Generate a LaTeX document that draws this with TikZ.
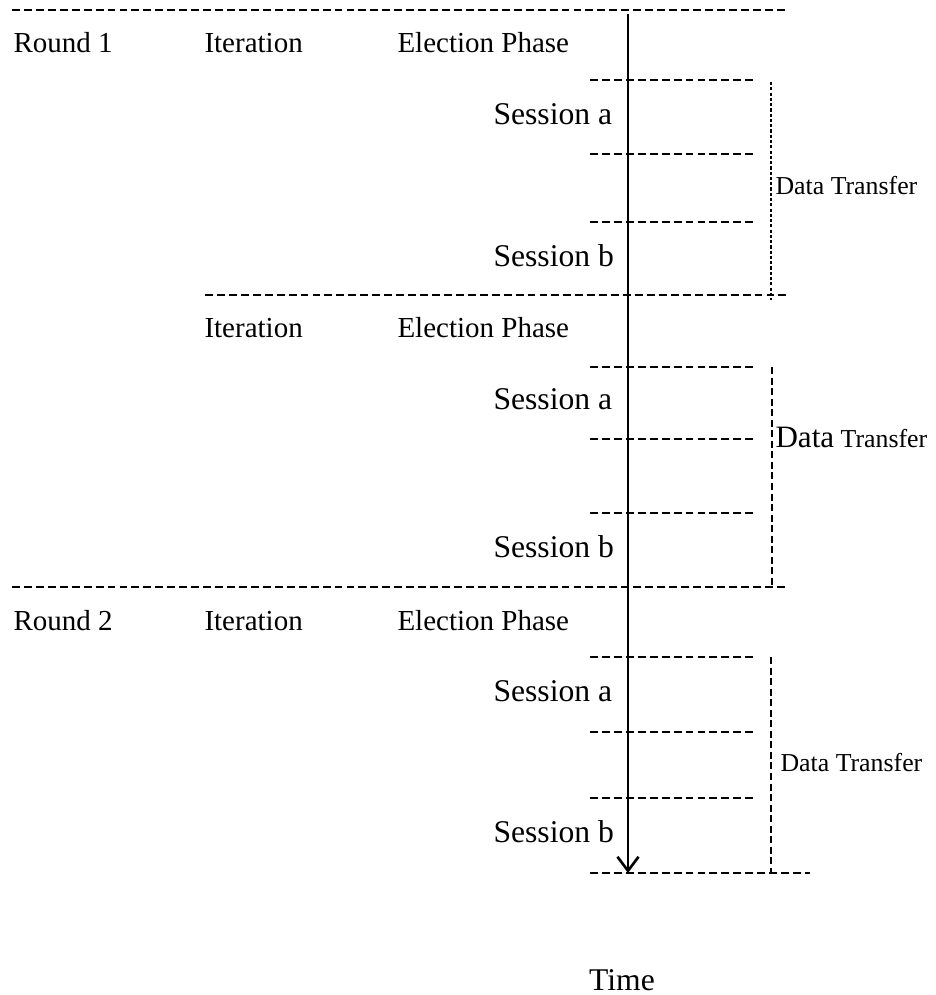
\documentclass[tikz,border=0pt]{standalone}
\usepackage{fontspec}
\setmainfont{Liberation Serif}
\usetikzlibrary{arrows.meta}
\tikzset{
  timeline/.style={x=0.02cm,y=-0.02cm,line width=0.6pt},
  rule/.style={dash pattern=on 4.5pt off 2.3pt},
  span/.style={dash pattern=on 4pt off 2pt},
  head/.style={anchor=west,inner sep=0pt,font=\fontsize{16.5}{18}\selectfont},
  sess/.style={anchor=west,inner sep=0pt,font=\fontsize{18}{20}\selectfont},
  xfer/.style={anchor=west,inner sep=0pt,font=\fontsize{14.7}{16}\selectfont},
}

\begin{document}
\begin{tikzpicture}[timeline]
    \useasboundingbox (0,0) rectangle (936,995);
    % round / iteration rules
    \coordinate (r0w) at (12,10);  \coordinate (r0e) at (785,10);
    \coordinate (r1w) at (205,295); \coordinate (r1e) at (788,295);
    \coordinate (r2w) at (12,587);  \coordinate (r2e) at (788,587);
    \coordinate (r3w) at (590,873); \coordinate (r3e) at (810,873);
    \foreach \i in {0,...,3} \draw[rule] (r\i w) -- (r\i e);
    % session rules
    \foreach \y [count=\i] in {80,154,222,367,439,513,657,732,798} {
      \coordinate (s\i w) at (590,\y); \coordinate (s\i e) at (757,\y);
      \draw[rule] (s\i w) -- (s\i e);
    }
    \node[head] (round1) at (13,43) {Round 1};
    \node[head] (round2) at (13,621) {Round 2};
    \foreach \y/\i in {43/1,328/2,621/3} {
      \node[head] (iter\i) at (204,\y) {Iteration};
      \node[head] (elect\i) at (397,\y) {Election Phase};
    }
    \foreach \ya/\yb/\i in {114/256/1,399/547/2,691/832/3} {
      \node[sess] (sessa\i) at (493,\ya) {Session a};
      \node[sess] (sessb\i) at (493,\yb) {Session b};
    }
    % data transfer spans
    \coordinate (dt1t) at (771,82);  \coordinate (dt1b) at (771,300);
    \coordinate (dt2t) at (772,367); \coordinate (dt2b) at (772,587);
    \coordinate (dt3t) at (771,657); \coordinate (dt3b) at (771,873);
    \draw[dash pattern=on 1.8pt off 1.2pt] (dt1t) -- (dt1b);
    \draw[span] (dt2t) -- (dt2b);
    \draw[span] (dt3t) -- (dt3b);
    \node[xfer] (xfer1) at (775,186) {Data Transfer};
    \node[xfer] (xfer2) at (775,437) {{\fontsize{17.7}{19}\selectfont Data} Transfer};
    \node[xfer] (xfer3) at (780,763) {Data Transfer};
    % time axis
    \coordinate (t0) at (628,14);
    \coordinate (t1) at (628,873);
    \draw[line width=1.5pt,-{Straight Barb[length=8pt,width=12pt]}] (t0) -- (t1);
    \node[sess,anchor=center] (time) at (622,980) {Time};
  \end{tikzpicture}
\end{document}
